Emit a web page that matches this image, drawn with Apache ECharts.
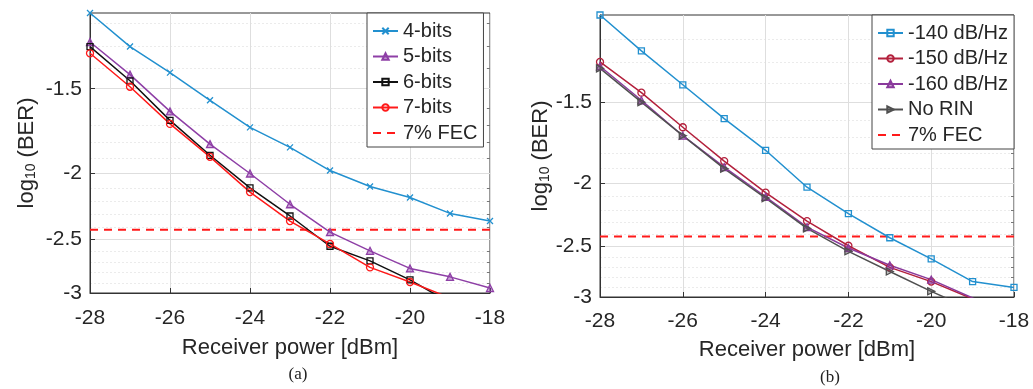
<!DOCTYPE html>
<html><head><meta charset="utf-8">
<script src="https://cdn.jsdelivr.net/npm/echarts@6/dist/echarts.min.js"></script>
<style>html,body{margin:0;padding:0;background:#fff}#c{width:1033px;height:389px}</style>
</head><body><div id="c"></div>
<script>
// ---------- data (log10(BER) values) ----------
const POWER_DBM = [-28, -27, -26, -25, -24, -23, -22, -21, -20, -19, -18];
const X_TICK_STEP = 2;
// panel (a)
const BITS_4 = [-1.16, -1.30, -1.42, -1.56, -1.71, -1.83, -1.98, -2.09, -2.17, -2.29, -2.35];
const BITS_5 = [-1.28, -1.43, -1.62, -1.81, -2.00, -2.22, -2.44, -2.60, -2.76, -2.84, -2.95];
const BITS_6 = [-1.30, -1.46, -1.67, -1.88, -2.10, -2.31, -2.56, -2.69, -2.87, -3.10, -3.35];
const BITS_7 = [-1.33, -1.49, -1.69, -1.89, -2.13, -2.35, -2.54, -2.75, -2.89, -3.05, -3.30];
// panel (b)
const RIN_140 = [-1.10, -1.25, -1.41, -1.59, -1.78, -2.03, -2.23, -2.43, -2.62, -2.84, -2.90];
const RIN_150 = [-1.30, -1.45, -1.64, -1.85, -2.07, -2.29, -2.50, -2.70, -2.84, -3.02, -3.20];
const RIN_160 = [-1.32, -1.49, -1.69, -1.89, -2.10, -2.34, -2.52, -2.68, -2.82, -3.01, -3.20];
const NO_RIN  = [-1.33, -1.50, -1.69, -1.90, -2.11, -2.35, -2.55, -2.74, -2.94, -3.14, -3.40];
const FEC_7PCT = -2.42;
// y ticks (major labelled, minor grid)
const Y_TICKS = [-1.5, -2, -2.5, -3];
const Y_MINOR = [-1.2, -1.3, -1.4, -1.6, -1.7, -1.8, -1.9, -2.1, -2.2, -2.3, -2.4, -2.6, -2.7, -2.8, -2.9];
const Y_RANGE_A = [-1.16, -3];
const Y_RANGE_B = [-1.10, -3];
const X_RANGE = [-28, -18];

// MATLAB-style log axis of negative values: plot log10(|v|) on an inverted linear axis
const T = v => Math.log10(-v);

const TXT = '#262626';
const FONT = 'Liberation Sans';
const BLUE = '#2290cf', PURPLE = '#8e3fa6', RED = '#ff1a1a', BLACK = '#111111';
const DRED = '#b3203c', PURPLE2 = '#8a3a9c', GRAY = '#505050';

const grids = [
  {left: 90, top: 13, width: 400, height: 280, show: true, borderColor: '#333', borderWidth: 1},
  {left: 600, top: 15, width: 414, height: 282, show: true, borderColor: '#333', borderWidth: 1}
];

function xAxis(gi) {
  return {
    type: 'value', gridIndex: gi, min: X_RANGE[0], max: X_RANGE[1], interval: X_TICK_STEP,
    name: 'Receiver power [dBm]', nameLocation: 'middle', nameGap: gi === 0 ? 44 : 42,
    nameTextStyle: {fontFamily: FONT, fontSize: 22, color: TXT},
    axisLine: {show: true, lineStyle: {color: '#333', width: 1}},
    axisTick: {show: true, inside: true, length: 5, lineStyle: {color: '#333'}},
    axisLabel: {fontFamily: FONT, fontSize: 21, color: TXT, margin: gi === 0 ? 15 : 14},
    splitLine: {show: true, lineStyle: {color: '#dedede', width: 1}}
  };
}
function yAxes(gi, range) {
  const base = {
    type: 'value', gridIndex: gi, inverse: true, min: T(range[0]), max: T(range[1])
  };
  return [
    Object.assign({}, base, {
      name: '{a|log}{b|10}{a| (BER)}', nameLocation: 'middle', nameRotate: 90,
      nameGap: gi === 0 ? 52 : 41,
      nameTextStyle: {color: TXT, rich: {
        a: {fontFamily: FONT, fontSize: 22, color: TXT},
        b: {fontFamily: FONT, fontSize: 14, color: TXT, verticalAlign: 'bottom', padding: [8, 0, 0, 0]}
      }},
      axisLine: {show: true, lineStyle: {color: '#333', width: 1}},
      axisTick: {show: true, inside: true, length: 5, customValues: Y_TICKS.map(T), lineStyle: {color: '#333'}},
      axisLabel: {fontFamily: FONT, fontSize: 21, color: TXT, margin: 8, customValues: Y_TICKS.map(T),
        formatter: v => {
          let best = Y_TICKS[0];
          Y_TICKS.forEach(t => { if (Math.abs(T(t) - v) < Math.abs(T(best) - v)) best = t; });
          return String(best);
        }},
      splitLine: {show: true, lineStyle: {color: '#dedede', width: 1}}
    }),
    Object.assign({}, base, {
      axisLine: {show: false},
      axisLabel: {show: false},
      axisTick: {show: true, inside: true, length: 3, customValues: Y_MINOR.map(T), lineStyle: {color: '#777'}},
      splitLine: {show: true, lineStyle: {color: '#ebebeb', width: 1, type: [2, 2]}}
    })
  ];
}

function line(name, vals, gi, color, symbol, opts) {
  opts = opts || {};
  return {
    type: 'line', name, xAxisIndex: gi, yAxisIndex: gi * 2,
    data: POWER_DBM.map((x, i) => [x, T(vals[i])]),
    symbol, symbolSize: opts.size || 7, symbolRotate: opts.rotate || 0,
    lineStyle: {color, width: 1.5},
    itemStyle: {color: opts.fill || 'rgba(255,255,255,0)', borderColor: color, borderWidth: 1.3},
    clip: true, z: opts.z || 3
  };
}
function fec(gi) {
  return {
    type: 'line', name: '7% FEC', xAxisIndex: gi, yAxisIndex: gi * 2,
    data: X_RANGE.map(x => [x, T(FEC_7PCT)]), symbol: 'none',
    lineStyle: {color: RED, width: 2, type: [8, 6]},
    itemStyle: {color: RED}, z: 2
  };
}
const XMARK = 'path://M0,0L10,10M10,0L0,10';

const series = [
  line('4-bits', BITS_4, 0, BLUE, XMARK, {size: 6}),
  line('5-bits', BITS_5, 0, PURPLE, 'triangle', {fill: 'rgba(142,63,166,0.45)'}),
  line('6-bits', BITS_6, 0, BLACK, 'rect', {size: 6}),
  line('7-bits', BITS_7, 0, RED, 'circle'),
  fec(0),
  line('-140 dB/Hz', RIN_140, 1, BLUE, 'rect', {size: 6}),
  line('-150 dB/Hz', RIN_150, 1, DRED, 'circle'),
  line('-160 dB/Hz', RIN_160, 1, PURPLE2, 'triangle', {fill: 'rgba(138,58,156,0.45)'}),
  line('No RIN', NO_RIN, 1, GRAY, 'triangle', {rotate: -90, fill: 'rgba(80,80,80,0.35)'}),
  fec(1)
];

function legend(left, top, names) {
  return {
    orient: 'vertical', left, top,
    data: names.map(n => n === '7% FEC' ? {name: n, itemStyle: {opacity: 0}} : n),
    backgroundColor: '#fff', borderColor: '#444', borderWidth: 1,
    padding: [8, 6, 4, 5], itemGap: 5.5, itemWidth: 25, itemHeight: 8,
    textStyle: {fontFamily: FONT, fontSize: 20, color: TXT, lineHeight: 20},
    selectedMode: false
  };
}

const chart = echarts.init(document.getElementById('c'), null, {renderer: 'canvas'});
chart.setOption({
  animation: false,
  backgroundColor: '#fff',
  grid: grids,
  xAxis: [xAxis(0), xAxis(1)],
  yAxis: [...yAxes(0, Y_RANGE_A), ...yAxes(1, Y_RANGE_B)],
  legend: [
    legend(367, 13, ['4-bits', '5-bits', '6-bits', '7-bits', '7% FEC']),
    legend(872, 15, ['-140 dB/Hz', '-150 dB/Hz', '-160 dB/Hz', 'No RIN', '7% FEC'])
  ],
  graphic: [
    {type: 'text', x: 298, y: 375, style: {text: '(a)', font: '17px "Liberation Serif"', fill: '#222', align: 'center', verticalAlign: 'middle'}},
    {type: 'text', x: 830, y: 378, style: {text: '(b)', font: '17px "Liberation Serif"', fill: '#222', align: 'center', verticalAlign: 'middle'}}
  ],
  series
});
</script></body></html>
